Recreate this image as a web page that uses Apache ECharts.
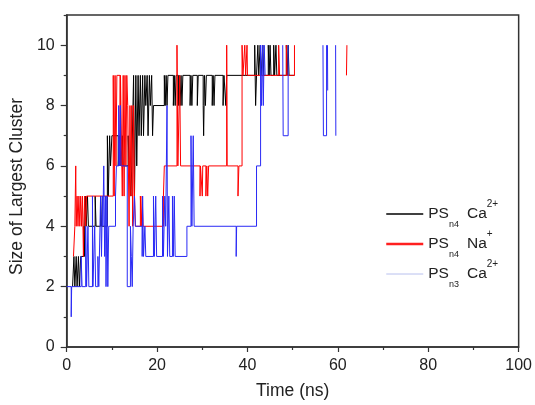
<!DOCTYPE html>
<html><head><meta charset="utf-8">
<script src="https://cdn.jsdelivr.net/npm/echarts@6/dist/echarts.min.js"></script>
<style>html,body{margin:0;padding:0;background:#fff}#c{width:535px;height:405px}</style>
</head><body><div id="c"></div>
<script>
const xTicks = [0, 20, 40, 60, 80, 100];
const yTicks = [0, 2, 4, 6, 8, 10];
const yMinorTicks = [1, 3, 5, 7, 9, 11];
const seriesNames = ['PSn4 Ca2+', 'PSn4 Na+', 'PSn3 Ca2+'];
const legendTexts = ['{m|PS}{s|n4}{c|Ca}{p|2+}', '{m|PS}{s|n4}{c|Na}{p|+}', '{m|PS}{s|n3}{c|Ca}{p|2+}'];

// [time (ns), size of largest cluster]; value holds until next time; null = gap
const blackSteps = [[1.3,2],[1.6,3],[1.8,2],[2.1,3],[2.3,2],[2.6,3],[2.8,2],[3.1,3],[3.8,4],[3.9,3],[4.1,5],[4.3,4],[4.6,5],[4.8,4],[6.3,5],[6.5,4],[7.5,5],[7.7,4],[9.0,7],[9.2,5],[9.5,7],[9.7,6],[10.0,7],[11.4,6],[11.7,7],[12.0,6],[12.3,7],[12.5,6],[13.6,7],[13.8,6],[14.2,5],[14.4,6],[14.8,9],[15.0,5],[15.3,9],[15.5,6],[15.8,9],[16.0,7],[16.3,9],[16.5,7],[16.8,9],[17.0,7],[17.3,9],[17.5,8],[17.8,9],[18.0,7],[18.3,9],[18.5,8],[18.8,9],[19.0,7],[19.2,8],[21.6,9],[21.8,8],[22.0,9],[22.2,8],[22.4,9],[23.6,8],[23.8,9],[24.0,8],[24.2,9],[24.7,8],[24.9,9],[25.1,8],[25.3,9],[25.5,8],[25.7,9],[27.3,8],[27.5,9],[27.7,8],[27.9,9],[28.9,8],[29.1,9],[30.2,8],[30.3,7],[30.5,9],[30.7,8],[30.9,9],[32.2,8],[32.4,9],[32.6,8],[32.8,9],[34.6,8],[34.8,9],[35.2,8],[35.4,9],[41.6,10],[41.8,8],[42.0,9],[42.3,10],[42.5,9],[42.8,10],[43.0,9],[43.4,10],[43.6,9],[44.6,10],[44.8,9],[45.0,10],[45.2,9],[45.8,10],[46.0,9],[46.3,10],[46.5,9],[48.6,10],[48.8,9],[49.0,10],[49.2,9],[50.4,null]];

const redSteps = [[1.5,3],[1.8,4],[2.0,6],[2.1,4],[2.3,5],[2.5,4],[2.7,5],[2.9,4],[3.1,5],[3.3,4],[3.5,5],[3.7,3],[3.8,4],[4.0,5],[4.2,4],[4.4,5],[10.3,9],[10.5,5],[10.7,9],[10.9,6],[11.1,9],[11.8,6],[11.9,9],[12.3,5],[12.5,9],[12.7,5],[12.9,9],[13.1,6],[13.3,9],[13.5,8],[13.8,4],[14.0,8],[14.2,5],[14.4,8],[14.6,4],[14.8,8],[15.0,5],[15.2,4],[16.3,5],[16.5,4],[16.7,5],[16.9,4],[21.4,5],[21.6,6],[24.4,10],[24.6,6],[25.0,9],[25.2,6],[29.5,5],[29.6,6],[30.0,5],[30.1,6],[30.8,5],[31.0,6],[31.2,5],[31.4,6],[35.4,10],[35.5,6],[37.9,5],[38.1,6],[38.8,10],[39.0,9],[39.4,10],[39.6,9],[39.9,10],[40.0,9],[46.9,10],[47.1,9],[48.6,10],[48.8,9],[50.4,10],[50.5,null],[61.9,9],[62.0,10],[62.1,null]];

const blueSteps = [[0,2],[1.0,1],[1.1,2],[3.2,3],[3.4,2],[4.2,4],[4.4,2],[4.7,4],[4.9,2],[5.7,5],[5.8,2],[6.2,4],[6.4,2],[6.9,3],[7.1,2],[7.5,5],[7.7,3],[7.9,5],[8.0,4],[8.2,6],[8.4,3],[8.6,5],[8.7,2],[8.9,5],[9.1,2],[9.3,4],[10.8,5],[11.0,6],[11.5,8],[11.7,6],[11.9,8],[12.0,6],[13.4,2],[14.1,4],[14.3,3],[14.5,2],[14.7,4],[15.0,5],[15.2,4],[16.7,3],[16.8,5],[17.0,3],[17.3,4],[17.5,3],[19.2,5],[19.4,3],[19.7,5],[19.9,3],[21.2,5],[21.4,3],[21.7,5],[21.9,4],[22.2,8],[22.3,3],[22.6,5],[22.8,3],[23.4,5],[23.6,3],[23.8,5],[24.0,3],[26.6,4],[27.5,7],[27.7,4],[28.0,7],[28.2,4],[37.5,3],[37.6,4],[42.0,6],[42.9,10],[43.1,8],[43.3,10],[43.5,8],[43.7,10],[43.9,9],[44.0,null],[47.8,10],[47.9,7],[49.0,10],[49.05,null],[56.7,10],[56.8,7],[57.5,10],[57.55,null],[57.7,10],[57.75,8.5],[57.8,null],[59.5,10],[59.55,7],[59.6,null]];

const FONT = '"Liberation Sans", Arial, sans-serif';
const chart = echarts.init(document.getElementById('c'), null, {renderer: 'canvas'});
const colors = ['#000000', '#ff0000', '#2a2af5'];
const allSteps = [blackSteps, redSteps, blueSteps];
const legendLine = [{color: '#000', width: 1.5}, {color: '#ff2020', width: 2.5}, {color: '#b8c0ee', width: 1}];

chart.setOption({
  animation: false,
  backgroundColor: '#fff',
  grid: {left: 66, right: 15, top: 15, bottom: 55, show: true, borderColor: '#333', borderWidth: 1.5, backgroundColor: 'transparent'},
  legend: {
    left: 380, top: 194, orient: 'vertical', itemWidth: 37, itemHeight: 14, itemGap: 0,
    selectedMode: false,
    data: seriesNames.map((n, i) => ({name: n, lineStyle: legendLine[i], itemStyle: {color: legendLine[i].color, opacity: 0}})),
    formatter: (name) => legendTexts[seriesNames.indexOf(name)],
    textStyle: {
      color: '#222', fontFamily: FONT,
      rich: {
        m: {fontSize: 15.5, lineHeight: 30, verticalAlign: 'middle', color: '#222', fontFamily: FONT},
        c: {fontSize: 15.5, lineHeight: 30, verticalAlign: 'middle', color: '#222', fontFamily: FONT, padding: [0, 0, 0, 8]},
        s: {fontSize: 9, lineHeight: 6, verticalAlign: 'bottom', color: '#222', fontFamily: FONT},
        p: {fontSize: 10, lineHeight: 14, verticalAlign: 'top', color: '#222', fontFamily: FONT}
      }
    }
  },
  xAxis: {
    type: 'value', min: 0, max: 100, interval: 20,
    name: 'Time (ns)', nameLocation: 'middle', nameGap: 35,
    nameTextStyle: {fontSize: 17.5, color: '#222', fontFamily: FONT},
    axisLine: {show: true, lineStyle: {color: '#333', width: 1.5}},
    axisTick: {show: true, inside: false, length: 5, lineStyle: {color: '#333', width: 1.2}},
    minorTick: {show: true, splitNumber: 2, length: 3, lineStyle: {color: '#333', width: 1.2}},
    axisLabel: {fontSize: 16, color: '#222', fontFamily: FONT, margin: 11, customValues: xTicks},
    splitLine: {show: false}
  },
  yAxis: [{
    type: 'value', min: 0, max: 11,
    name: 'Size of Largest Cluster', nameLocation: 'middle', nameGap: 33,
    nameTextStyle: {fontSize: 17.5, color: '#222', fontFamily: FONT, padding: [0, 11, 0, 0]},
    axisLine: {show: true, lineStyle: {color: '#333', width: 1.5}},
    axisTick: {show: true, inside: false, length: 6, customValues: yTicks, lineStyle: {color: '#333', width: 1.2}},
    axisLabel: {fontSize: 16, color: '#222', fontFamily: FONT, margin: 12, customValues: yTicks},
    splitLine: {show: false}
  }, {
    type: 'value', min: 0, max: 11, position: 'left',
    axisLine: {show: false},
    axisTick: {show: true, inside: false, length: 3, customValues: yMinorTicks, lineStyle: {color: '#333', width: 1.2}},
    axisLabel: {show: false},
    splitLine: {show: false}
  }],
  series: seriesNames.map((n, i) => ({
    name: n, type: 'line', step: 'end', symbol: 'none', showSymbol: false,
    data: allSteps[i], connectNulls: false, silent: true,
    lineStyle: {color: colors[i], width: 1},
    itemStyle: {color: colors[i]},
    z: 2 + i
  }))
});
</script></body></html>
